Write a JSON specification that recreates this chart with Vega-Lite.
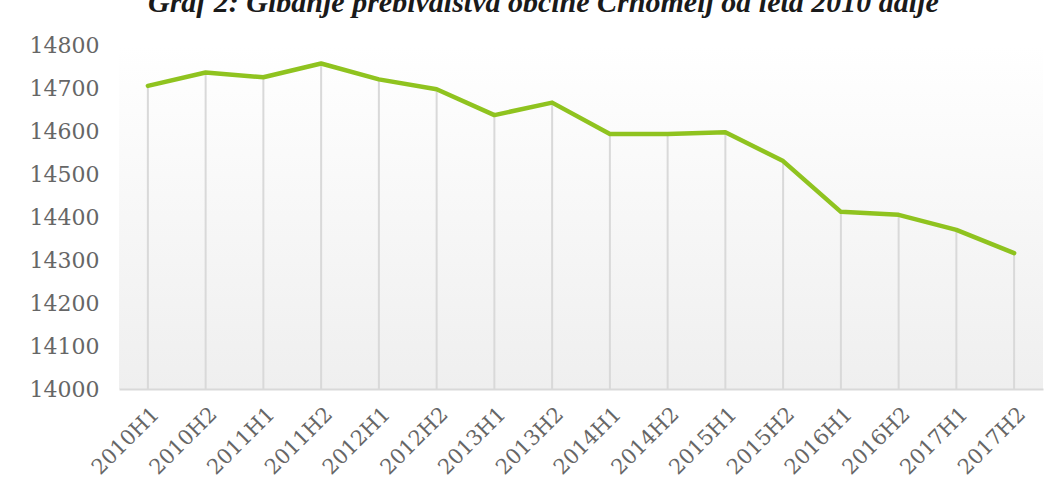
{
  "$schema": "https://vega.github.io/schema/vega-lite/v6.json",
  "width": 924,
  "height": 344,
  "autosize": {"type": "none"},
  "padding": {"left": 119, "top": 45, "right": 17, "bottom": 109},
  "background": "white",
  "title": {
    "text": "Graf 2: Gibanje prebivalstva občine Črnomelj od leta 2010 dalje",
    "anchor": "start",
    "frame": "group",
    "dx": 29,
    "dy": 14,
    "baseline": "bottom",
    "offset": 0,
    "font": "Liberation Serif",
    "fontStyle": "italic",
    "fontWeight": "bold",
    "fontSize": 30,
    "color": "#1a1a1a"
  },
  "config": {
    "view": {
      "stroke": null,
      "fill": {
        "gradient": "linear",
        "x1": 0, "y1": 0, "x2": 0, "y2": 1,
        "stops": [
          {"offset": 0, "color": "#ffffff"},
          {"offset": 1, "color": "#efefef"}
        ]
      }
    }
  },
  "data": {
    "values": [
      {"period": "2010H1", "population": 14705},
      {"period": "2010H2", "population": 14736},
      {"period": "2011H1", "population": 14725},
      {"period": "2011H2", "population": 14757},
      {"period": "2012H1", "population": 14720},
      {"period": "2012H2", "population": 14697},
      {"period": "2013H1", "population": 14637},
      {"period": "2013H2", "population": 14666},
      {"period": "2014H1", "population": 14593},
      {"period": "2014H2", "population": 14593},
      {"period": "2015H1", "population": 14597},
      {"period": "2015H2", "population": 14530},
      {"period": "2016H1", "population": 14412},
      {"period": "2016H2", "population": 14405},
      {"period": "2017H1", "population": 14370},
      {"period": "2017H2", "population": 14316}
    ]
  },
  "encoding": {
    "x": {
      "field": "period",
      "type": "ordinal",
      "sort": null,
      "scale": {"type": "point", "padding": 0.5},
      "axis": {
        "title": null,
        "labelAngle": -45,
        "labelFont": "DejaVu Serif",
        "labelFontSize": 21,
        "labelColor": "#666666",
        "labelPadding": 14,
        "ticks": false,
        "grid": false,
        "domain": true,
        "domainColor": "#d9d9d9",
        "domainWidth": 2
      }
    }
  },
  "layer": [
    {
      "mark": {"type": "rule", "color": "#d9d9d9", "strokeWidth": 2},
      "encoding": {
        "y": {
          "field": "population",
          "type": "quantitative",
          "scale": {"domain": [14000, 14800], "nice": false, "zero": false},
          "axis": {
            "title": null,
            "values": [14000, 14100, 14200, 14300, 14400, 14500, 14600, 14700, 14800],
            "format": "d",
            "labelFont": "DejaVu Serif",
            "labelFontSize": 22,
            "labelColor": "#666666",
            "labelPadding": 20,
            "ticks": false,
            "domain": false,
            "grid": false
          }
        },
        "y2": {"datum": 14000}
      }
    },
    {
      "mark": {"type": "line", "color": "#8fc31f", "strokeWidth": 4.5, "strokeJoin": "round", "strokeCap": "round"},
      "encoding": {
        "y": {"field": "population", "type": "quantitative"}
      }
    }
  ]
}
